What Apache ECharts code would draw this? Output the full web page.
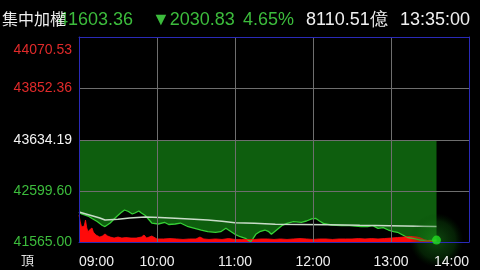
<!DOCTYPE html>
<html><head><meta charset="utf-8">
<style>html,body{margin:0;padding:0;background:#000;}#c{width:480px;height:270px;}</style>
<script src="https://cdn.jsdelivr.net/npm/echarts@6/dist/echarts.min.js"></script>
</head><body><div id="c"></div>
<script>
// Header texts
const indexName = '集中加權';
const lastPrice = '41603.36';
const changeText = '▼2030.83';
const changePct = '4.65%';
const turnover = '8110.51億';
const timeText = '13:35:00';
const cornerText = '頂';

// Axis ticks
const xTickLabels = ['09:00','10:00','11:00','12:00','13:00','14:00'];
const topTickValues = [43634.19, 43852.36, 44070.53];
const topTickLabels = ['43634.19','43852.36','44070.53'];
const lowTickValues = [41565.00, 42599.60, 43634.19];
const lowTickLabels = ['41565.00','42599.60','43634.19'];
const refPrice = 43634.19;
const lastTime = 275; // minutes after 09:00

// Index price (minutes after 09:00)
const priceTimes = [0,2,7,10,14,18,20,24,27,29,32,35,36,38,41,43,46,48,51,54,56,61,66,69,74,78,84,89,94,99,105,109,113,115,120,124,128,132,134,136,139,143,146,148,152,156,160,165,171,175,179,182,185,188,194,202,208,217,222,226,230,234,238,242,245,249,253,257,262,268,275];
const priceValues = [42173.6,42133,42092,42042,41981,41900,41879,41950,42032,42082,42153,42214,42245,42184,42133,42153,42194,42153,42103,42011,41950,41930,41961,41920,41930,41950,41875,41843,41808,41774,41762,41774,41843,41808,41721,41672,41640,41571,41640,41721,41774,41808,41774,41721,41808,41896,41944,41977,41965,41991,42032,42046,41991,41944,41910,41896,41896,41875,41879,41896,41843,41855,41808,41774,41762,41707,41652,41640,41606,41591,41603.36];

// Average price line
const avgTimes = [0,8,16,20,30,39,51,62,74,85,99,110,120,135,151,170,193,216,239,262,275];
const avgValues = [42174,42113,42052,42011,42026,42052,42072,42062,42046,42032,42011,41985,41957,41944,41924,41920,41914,41904,41896,41886,41879];

// Volume (億)
const volTimes = [0,1,2,3,4,5,6,7,8,9,10,11,12,13,14,16,18,20,22,24,27,30,33,36,40,44,48,50,52,56,60,65,70,75,80,85,90,93,96,100,105,110,115,120,125,130,135,140,145,150,155,160,165,170,175,180,185,190,195,200,205,210,215,220,225,230,235,240,245,250,255,260,263,266,270,275];
const volValues = [212,157,118,110,125,172,110,78,94,102,110,78,71,55,47,39,47,63,47,39,31,39,31,35,31,31,39,55,31,47,24,24,27,24,20,24,24,39,24,20,24,20,27,20,20,20,20,24,24,20,24,20,24,27,24,20,24,24,20,24,24,24,27,24,27,24,27,31,35,39,43,39,31,16,8,0];

const zip = (a, b) => a.map((t, i) => [t, b[i]]);
const nearest = (vals, labels, v) => {
  let bi = 0;
  vals.forEach((x, i) => { if (Math.abs(x - v) < Math.abs(vals[bi] - v)) bi = i; });
  return labels[bi];
};

const BLUE = '#2a2ab8';
const GRID = '#6e6e6e';
const RED = '#e02a2a';
const GREEN_T = '#3cbc3c';
const numFont = '"Liberation Sans", Arial, sans-serif';

const chart = echarts.init(document.getElementById('c'), null, {renderer: 'canvas'});

const hdr = (text, left, color, size, family, extra) => Object.assign({
  text, left, top: 11, padding: 0,
  textStyle: {color, fontSize: size, fontWeight: 'normal', fontFamily: family}
}, extra || {});

const baseX = {
  type: 'value', min: 0, max: 300, interval: 60, z: 3,
  axisTick: {show: false},
  axisLine: {show: true, onZero: false, lineStyle: {color: BLUE, width: 1}},
  splitLine: {show: true, lineStyle: {color: GRID, width: 1}}
};

chart.setOption({
  animation: false,
  backgroundColor: '#000',
  title: [
    hdr(lastPrice, 58, GREEN_T, 18, numFont),
    hdr(indexName, 2, '#f0f0f0', 16, '"Noto Sans CJK TC", sans-serif', {top: 11, backgroundColor: '#000', padding: [0, 1, 0, 0]}),
    hdr(changeText, 152, GREEN_T, 18, numFont),
    hdr(changePct, 243, GREEN_T, 18, numFont),
    hdr(turnover, 306, '#f0f0f0', 18, numFont),
    hdr(timeText, 400, '#f0f0f0', 18, numFont),
    hdr(cornerText, 21, '#e0e0e0', 13, '"Noto Sans CJK TC", sans-serif', {top: 254})
  ],
  grid: [
    {left: 79, right: 11, top: 37, height: 103},
    {left: 79, right: 11, top: 140, height: 102}
  ],
  xAxis: [
    Object.assign({}, baseX, {gridIndex: 0, position: 'top', axisLabel: {show: false}}),
    Object.assign({}, baseX, {gridIndex: 1, position: 'bottom',
      axisLabel: {show: true, color: '#f0f0f0', fontSize: 14, fontFamily: numFont, margin: 13,
        alignMinLabel: 'left', alignMaxLabel: 'right',
        formatter: v => xTickLabels[Math.round(v / 60)]}})
  ],
  yAxis: [
    {type: 'value', gridIndex: 0, position: 'left', min: topTickValues[0], max: topTickValues[2],
     interval: topTickValues[1] - topTickValues[0], z: 3,
     axisLine: {show: true, lineStyle: {color: BLUE}}, axisTick: {show: false},
     splitLine: {show: true, lineStyle: {color: GRID}},
     axisLabel: {show: true, showMinLabel: false, margin: 7, fontSize: 14, fontFamily: numFont,
       formatter: v => {
         const s = nearest(topTickValues, topTickLabels, v);
         return Math.abs(v - topTickValues[2]) < 1 ? '{mx|' + s + '}' : '{r|' + s + '}';
       },
       rich: {mx: {color: RED, fontSize: 14, fontFamily: numFont, padding: [26, 0, 0, 0]},
              r: {color: RED, fontSize: 14, fontFamily: numFont}}}},
    {type: 'value', gridIndex: 0, position: 'right', min: topTickValues[0], max: topTickValues[2], z: 3,
     axisLine: {show: true, lineStyle: {color: BLUE}}, axisTick: {show: false},
     splitLine: {show: false}, axisLabel: {show: false}},
    {type: 'value', gridIndex: 1, position: 'left', min: lowTickValues[0], max: lowTickValues[2],
     interval: (lowTickValues[2] - lowTickValues[0]) / 2, z: 3,
     axisLine: {show: true, lineStyle: {color: BLUE}}, axisTick: {show: false},
     splitLine: {show: true, lineStyle: {color: GRID}},
     axisLabel: {show: true, margin: 7, fontSize: 14, fontFamily: numFont,
       formatter: v => nearest(lowTickValues, lowTickLabels, v),
       color: v => (Math.abs(v - refPrice) < 1 ? '#f4f4f4' : GREEN_T)}},
    {type: 'value', gridIndex: 1, position: 'right', min: lowTickValues[0], max: lowTickValues[2], z: 3,
     axisLine: {show: true, lineStyle: {color: BLUE}}, axisTick: {show: false},
     splitLine: {show: false}, axisLabel: {show: false}},
    {type: 'value', gridIndex: 1, min: 0, max: 800, show: false}
  ],
  series: [
    {type: 'line', name: 'ref', xAxisIndex: 1, yAxisIndex: 2, showSymbol: false, symbol: 'none',
     data: [[0, refPrice], [lastTime, refPrice]],
     lineStyle: {width: 0}, areaStyle: {color: '#0e5e0e', opacity: 1, origin: 'start'}, z: 1},
    {type: 'line', name: 'price', xAxisIndex: 1, yAxisIndex: 2, showSymbol: false, symbol: 'none',
     data: zip(priceTimes, priceValues),
     lineStyle: {width: 1.3, color: '#35d035'}, areaStyle: {color: '#000', opacity: 1, origin: 'start'}, z: 2},
    {type: 'line', name: 'volume', xAxisIndex: 1, yAxisIndex: 4, showSymbol: false, symbol: 'none',
     data: zip(volTimes, volValues),
     lineStyle: {width: 0.8, color: '#ff1010'}, areaStyle: {color: '#ff0a0a', opacity: 1, origin: 'start'}, z: 2},
    {type: 'line', name: 'avg', xAxisIndex: 1, yAxisIndex: 2, showSymbol: false, symbol: 'none',
     data: zip(avgTimes, avgValues),
     lineStyle: {width: 1.6, color: '#c8dcc8'}, z: 2},
    {type: 'scatter', name: 'glow', xAxisIndex: 1, yAxisIndex: 2, clip: false,
     data: [[lastTime, priceValues[priceValues.length - 1]]], symbolSize: 54,
     itemStyle: {color: new echarts.graphic.RadialGradient(0.5, 0.5, 0.5, [
       {offset: 0, color: 'rgba(30,150,30,0.6)'}, {offset: 0.7, color: 'rgba(15,100,15,0.4)'}, {offset: 1, color: 'rgba(0,60,0,0)'}])},
     z: 2},
    {type: 'scatter', name: 'last', xAxisIndex: 1, yAxisIndex: 2, clip: false,
     data: [[lastTime, priceValues[priceValues.length - 1]]], symbolSize: 9,
     itemStyle: {color: '#22dd22'}, z: 4}
  ]
});
</script>
</body></html>
